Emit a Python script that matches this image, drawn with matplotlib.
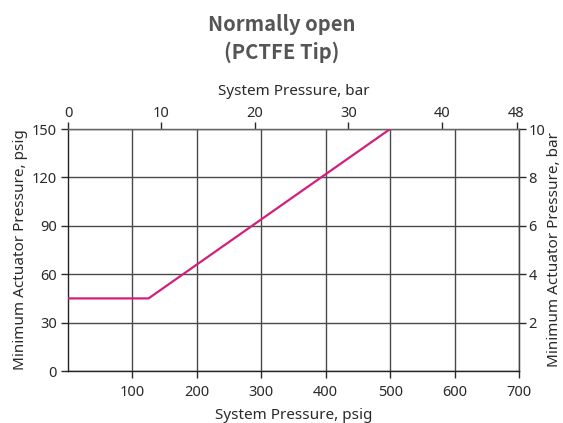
import matplotlib
matplotlib.use("Agg")
import matplotlib.pyplot as plt

plt.rcParams['font.family'] = ['Noto Sans', 'DejaVu Sans']

# Curve: minimum actuator pressure vs system pressure (psig)
system_psig = [0, 125, 500]
actuator_psig = [45, 45, 150]

bottom_ticks = [100, 200, 300, 400, 500, 600, 700]
left_ticks = [0, 30, 60, 90, 120, 150]
top_ticks_bar = [0, 10, 20, 30, 40, 48]
right_ticks_bar = [2, 4, 6, 8, 10]

PSI_PER_BAR = 14.5038
RIGHT_SCALE = 15.0  # psig per bar unit on the right-hand axis

text_col = '#2a2a2a'
grid_col = '#4a4a4a'
line_col = '#d0207e'

fig = plt.figure(figsize=(5.63, 4.23), dpi=100)
ax = fig.add_axes([0.1208, 0.1229, 0.8010, 0.5721])

ax.set_xlim(0, 700)
ax.set_ylim(0, 150)
ax.set_xticks(bottom_ticks)
ax.set_yticks(left_ticks)
ax.grid(True, color=grid_col, linewidth=1.0)
ax.set_axisbelow(True)
for s in ax.spines.values():
    s.set_color('#222222')
    s.set_linewidth(1.0)
ax.spines['top'].set_color('#666666')
ax.spines['right'].set_color('#444444')

ax.tick_params(axis='both', labelsize=10.5, colors=text_col, length=5,
               width=1.0, direction='out', pad=3)
ax.tick_params(axis='x', pad=5)

ax.plot(system_psig, actuator_psig, color=line_col, linewidth=1.6,
        solid_capstyle='butt', zorder=3)

ax.set_xlabel('System Pressure, psig', fontsize=11, color=text_col, labelpad=6)
ax.set_ylabel('Minimum Actuator Pressure, psig', fontsize=11, color=text_col,
              labelpad=3)

top = ax.secondary_xaxis('top', functions=(lambda p: p / PSI_PER_BAR,
                                           lambda b: b * PSI_PER_BAR))
top.set_xticks(top_ticks_bar)
top.tick_params(labelsize=10.5, colors=text_col, length=5, width=1.0, pad=1)
top.spines['top'].set_color('#666666')
top.set_xlabel('System Pressure, bar', fontsize=11, color=text_col, labelpad=8)

right = ax.secondary_yaxis('right', functions=(lambda p: p / RIGHT_SCALE,
                                               lambda b: b * RIGHT_SCALE))
right.set_yticks(right_ticks_bar)
right.tick_params(labelsize=10.5, colors=text_col, length=5, width=1.0, pad=2)
right.spines['right'].set_color('#444444')
right.set_ylabel('Minimum Actuator Pressure, bar', fontsize=11, color=text_col,
                 labelpad=1)

title_font = ['Noto Sans CJK SC', 'DejaVu Sans']
fig.text(0.5, 0.943, 'Normally open', ha='center', va='center', family=title_font,
         fontsize=14.5, fontweight='bold', color='#555555')
fig.text(0.5, 0.877, '(PCTFE Tip)', ha='center', va='center', family=title_font,
         fontsize=14.5, fontweight='bold', color='#555555')

fig.savefig('out.png', dpi=100, facecolor='white')
